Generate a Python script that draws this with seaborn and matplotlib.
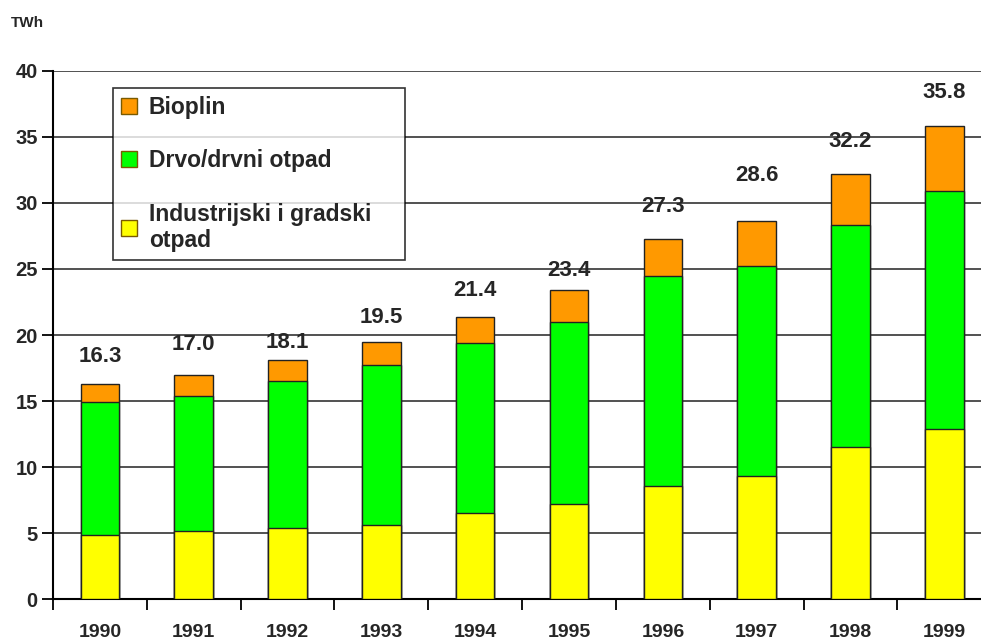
import numpy as np
import pandas as pd
import seaborn as sns
import matplotlib.pyplot as plt
from matplotlib.patches import Patch

# podaci ocitani s grafa (TWh)
years = ['1990', '1991', '1992', '1993', '1994', '1995', '1996', '1997', '1998', '1999']
industrijski = [4.85, 5.15, 5.4, 5.6, 6.5, 7.2, 8.6, 9.3, 11.5, 12.9]
drvo = [10.05, 10.25, 11.1, 12.1, 12.9, 13.8, 15.9, 15.95, 16.8, 18.0]
bioplin = [1.4, 1.6, 1.6, 1.8, 2.0, 2.4, 2.8, 3.35, 3.9, 4.9]
totals = [16.3, 17.0, 18.1, 19.5, 21.4, 23.4, 27.3, 28.6, 32.2, 35.8]

names = ['Bioplin', 'Drvo/drvni otpad', 'Industrijski i gradski    \notpad']
colors = ['#FF9900', '#00FF00', '#FFFF00']

# razmak natpisa iznad stupca (u tockama)
label_gap = [20, 22, 13, 17, 19, 14, 23, 33, 23, 24]

df = pd.DataFrame({'year': years, 'ind': industrijski, 'drvo': drvo, 'bio': bioplin})
df['c1'] = df['ind']
df['c2'] = df['ind'] + df['drvo']
df['c3'] = df['c2'] + df['bio']

sns.set_style("white")
plt.rcParams['font.family'] = ['Liberation Sans', 'DejaVu Sans']

fig = plt.figure(figsize=(9.81, 6.43), dpi=100)
ax = fig.add_axes([0.054, 0.068, 0.946, 0.822])

# slaganje: prvo ukupno, pa preko njega nize razine
for col, c in [('c3', colors[0]), ('c2', colors[1]), ('c1', colors[2])]:
    sns.barplot(data=df, x='year', y=col, color=c, saturation=1, width=0.41,
                edgecolor='#222222', linewidth=1.0, ax=ax, zorder=3)

for i, t in enumerate(totals):
    ax.annotate(f'{t:.1f}', (i, t), xytext=(0, label_gap[i]), textcoords='offset points',
                ha='center', va='center', fontsize=16, fontweight='bold', zorder=5)

ax.set_ylim(0, 40)
ax.set_xlim(-0.5, 9.39)
ax.set_yticks(range(0, 41, 5))
ax.yaxis.grid(True, color='#333333', linewidth=1.2, zorder=0)
ax.set_axisbelow(True)
ax.set_xlabel('')
ax.set_ylabel('')

ax.set_xticks(np.arange(-0.5, 9.5, 1), minor=True)
ax.tick_params(axis='x', which='both', bottom=True)
ax.tick_params(axis='x', which='major', length=0, pad=18, labelsize=14)
ax.tick_params(axis='x', which='minor', length=8, width=1.3, color='black', direction='out')
ax.tick_params(axis='y', left=True, length=8, width=1.3, color='black', direction='out',
               labelsize=14.5, pad=3)
for lab in ax.get_xticklabels() + ax.get_yticklabels():
    lab.set_fontweight('bold')

for s in ['top', 'right']:
    ax.spines[s].set_visible(False)
for s in ['left', 'bottom']:
    ax.spines[s].set_color('black')
    ax.spines[s].set_linewidth(1.5)

handles = [Patch(facecolor=c, edgecolor='#7a5a00', linewidth=1) for c in colors]
leg = ax.legend(handles, names, loc='upper left', bbox_to_anchor=(0.065, 0.968),
                borderaxespad=0, frameon=True, fancybox=False, edgecolor='black',
                prop={'size': 16.5, 'weight': 'bold'}, handlelength=0.7, handleheight=0.7,
                handletextpad=0.5, labelspacing=1.33, borderpad=0.35)
leg.get_frame().set_linewidth(1.2)
leg.set_zorder(6)

fig.text(0.011, 0.965, 'TWh', fontsize=11, fontweight='bold', va='center')

fig.savefig('out.png', dpi=100, facecolor='white')
